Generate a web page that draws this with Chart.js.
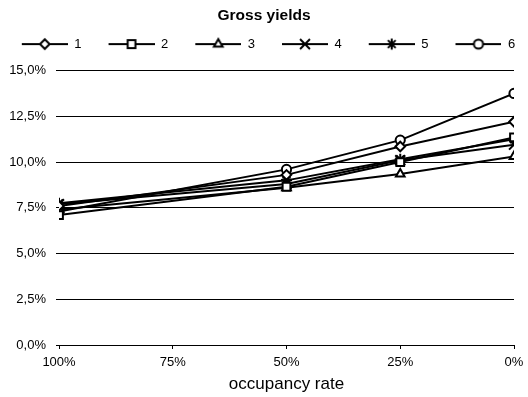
<!DOCTYPE html>
<html>
<head>
<meta charset="utf-8">
<script src="https://cdn.jsdelivr.net/npm/chart.js@4.4.1/dist/chart.umd.min.js"></script>
<style>
  html, body { margin: 0; padding: 0; background: #fff; }
</style>
</head>
<body>
<canvas id="yieldChart" width="528" height="397"></canvas>
<script>
// occupancy rate (x) and gross yield in % for each of the 6 series
const occupancy = [100, 50, 25, 0];
const seriesNames = ['1', '2', '3', '4', '5', '6'];
const yield1 = [7.6, 9.3, 10.85, 12.2];
const yield2 = [7.1, 8.65, 10.0, 11.35];
const yield3 = [7.4, 8.6, 9.35, 10.3];
const yield4 = [7.7, 8.8, 10.1, 10.95];
const yield5 = [7.75, 9.0, 10.15, 11.25];
const yield6 = [7.3, 9.6, 11.2, 13.75];
const markers = ['rectRot', 'rect', 'triangle', 'crossRot', 'star', 'circle'];
const markerSizes = [4.8, 5.5, 5, 7, 5.5, 4.6];

const FONT = "'Liberation Sans', Arial, sans-serif";
const allYields = [yield1, yield2, yield3, yield4, yield5, yield6];

// legend icon: short line with the marker in the middle
const ICON_W = 69;
function legendIcon(i) {
    const c = document.createElement('canvas');
    c.width = ICON_W;
    c.height = 16;
    const ctx = c.getContext('2d');
    ctx.strokeStyle = '#000';
    ctx.lineWidth = 2;
    ctx.beginPath();
    ctx.moveTo(ICON_W - 46, 8);
    ctx.lineTo(ICON_W, 8);
    ctx.stroke();
    ctx.fillStyle = '#fff';
    ctx.lineWidth = 2;
    Chart.helpers.drawPoint(ctx, { pointStyle: markers[i], radius: markerSizes[i], rotation: 0, borderWidth: 2 }, ICON_W - 23, 8);
    return c;
}

const datasets = allYields.map((vals, i) => ({
    label: seriesNames[i],
    data: occupancy.map((x, j) => ({ x: x, y: vals[j] })),
    borderColor: '#000',
    borderWidth: 2,
    pointStyle: markers[i],
    pointRadius: markerSizes[i],
    pointBackgroundColor: '#fff',
    pointBorderColor: '#000',
    pointBorderWidth: 2,
    tension: 0
}));

// more air below the legend, and nudge it a bit to the left
const legendNudge = {
    id: 'legendNudge',
    beforeInit(chart) {
        const fit = chart.legend.fit;
        chart.legend.fit = function () {
            fit.call(this);
            this.height += 10;
        };
    },
    afterLayout(chart) {
        chart.legend.left -= 7;
        chart.legend.right -= 7;
    }
};

new Chart(document.getElementById('yieldChart'), {
    type: 'line',
    data: { datasets: datasets },
    plugins: [legendNudge],
    options: {
        responsive: false,
        animation: false,
        layout: { padding: 0 },
        plugins: {
            title: {
                display: true,
                text: 'Gross yields',
                color: '#000',
                font: { family: FONT, size: 15.5, weight: 'bold' },
                padding: { top: 6, bottom: 9 }
            },
            legend: {
                position: 'top',
                labels: {
                    color: '#000',
                    font: { family: FONT, size: 13 },
                    usePointStyle: true,
                    pointStyleWidth: ICON_W,
                    padding: 4,
                    generateLabels: chart => chart.data.datasets.map((ds, i) => ({
                        text: ds.label,
                        pointStyle: legendIcon(i),
                        fontColor: '#000',
                        datasetIndex: i,
                        hidden: false
                    }))
                }
            },
            tooltip: { enabled: false }
        },
        scales: {
            x: {
                type: 'linear',
                min: 0,
                max: 100,
                reverse: true,
                afterFit: s => { s.height = 52; s.paddingRight = 14; },
                ticks: {
                    stepSize: 25,
                    color: '#000',
                    padding: 6,
                    font: { family: FONT, size: 13 },
                    callback: v => v + '%'
                },
                grid: { drawOnChartArea: false, drawTicks: true, tickLength: 4, color: '#000' },
                border: { display: true, color: '#000', width: 1 },
                title: {
                    display: true,
                    text: 'occupancy rate',
                    color: '#000',
                    font: { family: FONT, size: 17 },
                    padding: { top: 0, bottom: 2 }
                }
            },
            y: {
                min: 0,
                max: 15,
                afterFit: s => { s.width = 59; },
                ticks: {
                    stepSize: 2.5,
                    color: '#000',
                    padding: 10,
                    font: { family: FONT, size: 13 },
                    callback: v => v.toFixed(1).replace('.', ',') + '%'
                },
                grid: { color: '#000', lineWidth: 1, tickLength: 3 },
                border: { display: false }
            }
        }
    }
});
</script>
</body>
</html>
